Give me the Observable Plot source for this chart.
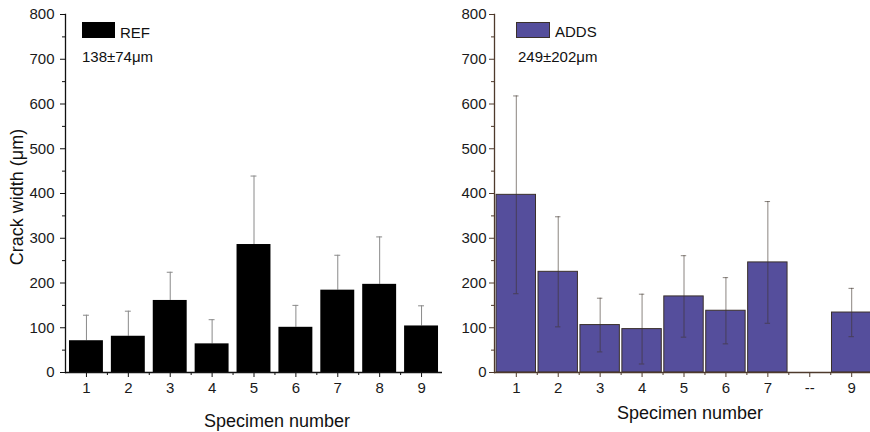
<!DOCTYPE html>
<html>
<head>
<meta charset="utf-8">
<script src="https://cdn.jsdelivr.net/npm/d3@7"></script>
<script src="https://cdn.jsdelivr.net/npm/@observablehq/plot@0.6"></script>
<style>
  html, body { margin: 0; padding: 0; background: #fff; }
  #wrap { position: relative; width: 870px; height: 432px; overflow: hidden; font-family: "Liberation Sans", Arial, sans-serif; color: #111; }
  .panel { position: absolute; top: 0; }
  .txt { position: absolute; white-space: nowrap; line-height: 1; }
  .sw { position: absolute; box-sizing: border-box; }
</style>
</head>
<body>
<div id="wrap"></div>
<script>
// ---- data ----
const refLabels = ["1", "2", "3", "4", "5", "6", "7", "8", "9"];
const refMean = [71, 81, 161, 64, 286, 101, 184, 197, 104];
const refSD = [57, 56, 63, 54, 153, 49, 78, 106, 45];

const addsLabels = ["1", "2", "3", "4", "5", "6", "7", "--", "9"];
const addsMean = [397, 225, 106, 97, 170, 138, 246, null, 134];
const addsSD = [221, 123, 60, 78, 91, 74, 136, null, 54];

const yMajor = [0, 100, 200, 300, 400, 500, 600, 700, 800];
const yMinor = [50, 150, 250, 350, 450, 550, 650, 750];

const refSummary = "138±74μm";
const addsSummary = "249±202μm";

const refData = refLabels.map((l, i) => ({label: l, mean: refMean[i], sd: refSD[i]}));
const addsData = addsLabels.map((l, i) => ({label: l, mean: addsMean[i], sd: addsSD[i]})).filter(d => d.mean != null);

const font = "'Liberation Sans', Arial, sans-serif";
const wrap = document.getElementById("wrap");

function panel(opts) {
  const {labels, data, width, marginLeft, marginRight, pIn, pOut, axisColor, barFill, barStroke, errColor, errOpacity, capInset, full, tickPad} = opts;
  const plotW = width - marginLeft - marginRight;
  const step = plotW / (labels.length - pIn + 2 * pOut);
  const errMarks = full ? [
    Plot.ruleX(data, {x: "label", y1: d => d.mean - d.sd, y2: d => d.mean + d.sd, stroke: errColor, strokeOpacity: errOpacity, strokeWidth: 1}),
    Plot.tickY(data, {x: "label", y: d => d.mean + d.sd, stroke: errColor, strokeOpacity: errOpacity, insetLeft: capInset, insetRight: capInset}),
    Plot.tickY(data, {x: "label", y: d => d.mean - d.sd, stroke: errColor, strokeOpacity: errOpacity, insetLeft: capInset, insetRight: capInset})
  ] : [
    Plot.ruleX(data, {x: "label", y1: "mean", y2: d => d.mean + d.sd, stroke: errColor, strokeOpacity: errOpacity, strokeWidth: 1}),
    Plot.tickY(data, {x: "label", y: d => d.mean + d.sd, stroke: errColor, strokeOpacity: errOpacity, insetLeft: capInset, insetRight: capInset})
  ];
  const bars = Plot.barY(data, {x: "label", y: "mean", fill: barFill, stroke: barStroke, strokeWidth: barStroke === "none" ? 0 : 1});
  return Plot.plot({
    width, height: 432,
    marginLeft, marginRight, marginTop: 14, marginBottom: 60,
    style: {fontFamily: font, fontSize: "15px", color: "#1a1a1a", background: "transparent", overflow: "visible"},
    x: {domain: labels, paddingInner: pIn, paddingOuter: pOut, round: false, label: null},
    y: {domain: [0, 800], label: null},
    marks: [
      ...(full ? [bars, ...errMarks] : [...errMarks, bars]),
      Plot.axisY({ticks: yMajor, tickSize: 5, tickPadding: tickPad, stroke: axisColor, label: null, fill: "#1a1a1a", fontSize: 15}),
      Plot.axisY({ticks: yMinor, tickSize: 3, tickFormat: () => "", stroke: axisColor, label: null}),
      Plot.axisX({tickSize: 5, tickPadding: 5, stroke: axisColor, label: null, fill: "#1a1a1a", fontSize: 15}),
      Plot.axisX({ticks: labels.slice(0, -1), tickSize: 3, tickFormat: () => "", dx: step / 2, stroke: axisColor, label: null}),
      Plot.ruleY([0], {stroke: axisColor, strokeWidth: 1.3}),
      Plot.frame({anchor: "left", stroke: axisColor, strokeWidth: 1.3})
    ]
  });
}

const left = panel({
  labels: refLabels, data: refData, width: 445, marginLeft: 65, marginRight: 3,
  pIn: 0.19, pOut: 0.095, axisColor: "#111", barFill: "#000", barStroke: "none",
  errColor: "#8a8a8a", errOpacity: 1, capInset: 14, full: false, tickPad: 6
});
left.classList.add("panel");
left.style.left = "0px";
wrap.appendChild(left);

const right = panel({
  labels: addsLabels, data: addsData, width: 445, marginLeft: 64, marginRight: 2,
  pIn: 0.06, pOut: 0.05, axisColor: "#4e3a2c", barFill: "#554e9c", barStroke: "#3a302c",
  errColor: "#3e342c", errOpacity: 0.6, capInset: 17, full: true, tickPad: 3
});
right.classList.add("panel");
right.style.left = "430px";
wrap.appendChild(right);

function addText(str, x, y, size, extra) {
  const el = document.createElement("div");
  el.className = "txt";
  el.textContent = str;
  el.style.left = x + "px";
  el.style.top = y + "px";
  el.style.fontSize = size + "px";
  if (extra) Object.assign(el.style, extra);
  wrap.appendChild(el);
  return el;
}
function addSwatch(x, y, w, h, fill, border) {
  const el = document.createElement("div");
  el.className = "sw";
  Object.assign(el.style, {left: x + "px", top: y + "px", width: w + "px", height: h + "px", background: fill, border: "1px solid " + border});
  wrap.appendChild(el);
}

// legends
addSwatch(82, 22, 33, 16, "#000", "#000");
addText("REF", 120, 32, 15, {transform: "translateY(-50%)"});
addText(refSummary, 82, 56, 15, {transform: "translateY(-50%)"});
addSwatch(516, 22, 34, 16, "#554e9c", "#3a302c");
addText("ADDS", 555, 31, 15, {transform: "translateY(-50%)"});
addText(addsSummary, 518, 56, 15, {transform: "translateY(-50%)"});

// axis titles
addText("Specimen number", 277, 421, 18, {transform: "translate(-50%, -50%)"});
addText("Specimen number", 690, 413, 18, {transform: "translate(-50%, -50%)"});
addText("Crack width (μm)", 17, 197, 18, {transform: "translate(-50%, -50%) rotate(-90deg)"});
</script>
</body>
</html>
